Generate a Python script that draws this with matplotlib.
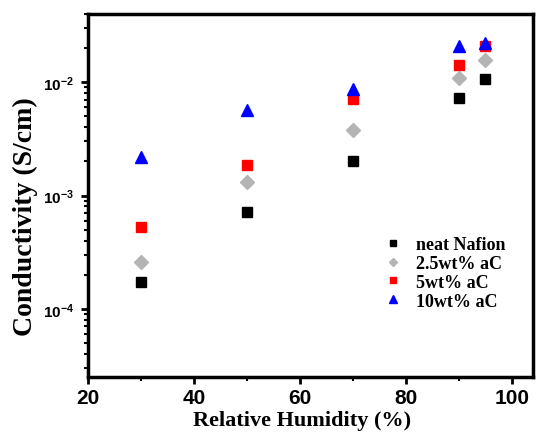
import numpy as np
import matplotlib
matplotlib.use("Agg")
import matplotlib.pyplot as plt
from matplotlib.ticker import LogLocator, MultipleLocator, FixedLocator

# data
rh = [30, 50, 70, 90, 95]
neat = [1.74e-4, 7.1e-4, 2.0e-3, 7.2e-3, 1.06e-2]
ac25 = [2.6e-4, 1.31e-3, 3.8e-3, 1.1e-2, 1.56e-2]
ac5 = [5.3e-4, 1.85e-3, 7.1e-3, 1.41e-2, 2.07e-2]
ac10 = [2.2e-3, 5.7e-3, 8.8e-3, 2.07e-2, 2.2e-2]
labels = ["neat Nafion", "2.5wt% aC", "5wt% aC", "10wt% aC"]
yticks = [1e-4, 1e-3, 1e-2]

plt.rcParams['mathtext.fontset'] = 'custom'
plt.rcParams['mathtext.bf'] = 'Liberation Sans:bold'
plt.rcParams['mathtext.rm'] = 'Liberation Sans:bold'

fig = plt.figure(figsize=(5.37, 4.35), dpi=100)
ax = fig.add_axes([0.164, 0.131, 0.8285, 0.8345])

ax.plot(rh, neat, 's', color='black', ms=7, label=labels[0])
ax.plot(rh, ac25, 'D', color='#b4b4b4', ms=7.5, label=labels[1])
ax.plot(rh, ac5, 's', color='#ff0000', ms=7, label=labels[2])
ax.plot(rh, ac10, '^', color='#0000ff', ms=9, label=labels[3])

ax.set_yscale('log')
ax.set_xlim(20, 104)
ax.set_ylim(2.5e-5, 4e-2)

ax.xaxis.set_major_locator(MultipleLocator(20))
ax.xaxis.set_minor_locator(MultipleLocator(10))
ax.yaxis.set_major_locator(FixedLocator(yticks))
ax.set_yticklabels([r'$\mathbf{10^{%d}}$' % int(np.log10(v)) for v in yticks])
ax.yaxis.set_minor_locator(LogLocator(base=10, subs=np.arange(2, 10)))

for lab in ax.get_xticklabels():
    lab.set_fontfamily('Liberation Sans')
    lab.set_fontweight('bold')
ax.tick_params(axis='x', labelsize=15, direction='out', width=2, length=5, pad=3)
ax.tick_params(axis='y', labelsize=11, direction='out', width=2, length=5, pad=5)
ax.tick_params(which='minor', direction='out', width=1.5, length=3)
ax.tick_params(top=False, right=False, which='both')

for s in ax.spines.values():
    s.set_linewidth(2.5)

ax.set_xlabel('Relative Humidity (%)', fontsize=16, fontfamily='Liberation Serif',
              fontweight='bold')
ax.set_ylabel('Conductivity (S/cm)', fontsize=20, fontfamily='Liberation Serif',
              fontweight='bold')
ax.xaxis.set_label_coords(0.481, -0.092)
ax.yaxis.set_label_coords(-0.113, 0.444)

ax.legend(loc='upper left', bbox_to_anchor=(0.665, 0.388), frameon=False,
          prop={'family': 'Liberation Serif', 'weight': 'bold', 'size': 13},
          borderpad=0, borderaxespad=0, handletextpad=0.8, labelspacing=0.1,
          handlelength=1.0, markerscale=0.6)

fig.savefig('out.png', dpi=100)
